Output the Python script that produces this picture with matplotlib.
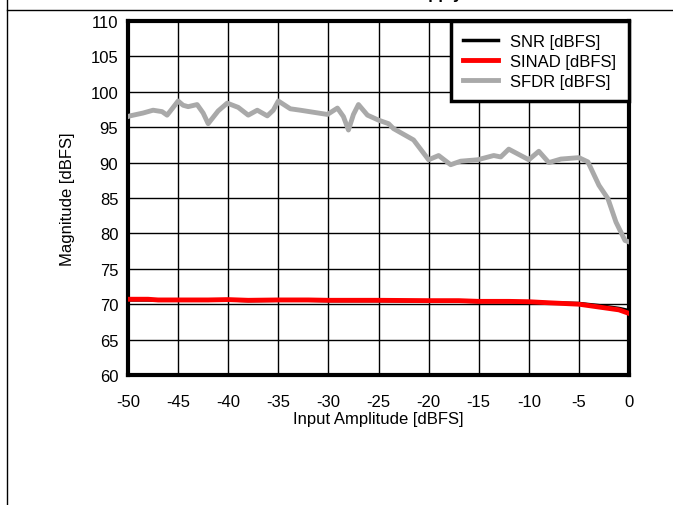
import numpy as np
import matplotlib
matplotlib.use('Agg')
import matplotlib.pyplot as plt
from matplotlib.lines import Line2D

plt.rcParams['font.family'] = ['Liberation Sans', 'DejaVu Sans']
plt.rcParams['axes.unicode_minus'] = False

# SFDR
amp_sfdr = [-50, -49.8, -48.5, -47.5, -46.6, -46.1, -45.6, -45, -44.5, -44, -43.1, -42.5, -42,
            -41, -40.1, -39, -38, -37.1, -36.1, -35.5,
            -35, -33.8, -32.8, -30.1, -29.1, -28.5, -28, -27.5, -27, -26.1, -25, -24, -23.5, -21.5,
            -20, -19, -17.8, -16.8, -15.1, -13.5, -12.8, -12, -10, -9, -8, -6.8,
            -5, -4.1, -3, -2.1, -1.3, -0.4, 0]
sfdr = [96.5, 96.6, 97.0, 97.4, 97.2, 96.7, 97.6, 98.7, 98.1, 97.9, 98.2, 97.0, 95.5,
        97.3, 98.4, 97.8, 96.7, 97.4, 96.6, 97.4,
        98.7, 97.6, 97.4, 96.8, 97.7, 96.5, 94.6, 96.8, 98.2, 96.7, 96.0, 95.5, 94.8, 93.2,
        90.4, 91.0, 89.7, 90.2, 90.4, 91.0, 90.8, 91.9, 90.4, 91.6, 90.0, 90.5,
        90.7, 90.1, 86.8, 84.9, 81.6, 79.0, 78.8]

amp = [-50, -48, -47, -45, -42, -40, -38, -35, -32, -30, -25, -20, -17, -15,
       -12, -10, -8, -5, -3, -2, -1, 0]
snr = [70.6, 70.6, 70.55, 70.55, 70.55, 70.6, 70.5, 70.55, 70.55, 70.5, 70.5, 70.45,
       70.45, 70.35, 70.35, 70.3, 70.2, 70.1, 69.8, 69.6, 69.4, 69.1]
sinad = [70.7, 70.7, 70.6, 70.6, 70.6, 70.65, 70.55, 70.6, 70.6, 70.55, 70.55, 70.5,
         70.5, 70.4, 70.4, 70.35, 70.2, 70.0, 69.6, 69.4, 69.2, 68.7]

xticks = np.arange(-50, 1, 5)
yticks = np.arange(60, 111, 5)

fig = plt.figure(figsize=(6.73, 5.06), dpi=100)
ax = fig.add_axes([128/673, 130/506, 501/673, 354/506])

ax.plot(amp, snr, color='black', lw=2.5, label='SNR [dBFS]', zorder=3)
ax.plot(amp, sinad, color='#ff0000', lw=3.5, label='SINAD [dBFS]', zorder=4)
ax.plot(amp_sfdr, sfdr, color='#a9a9a9', lw=3.5, label='SFDR [dBFS]', zorder=3,
        solid_joinstyle='round')

ax.set_xlim(-50, 0)
ax.set_ylim(60, 110)
ax.set_xticks(xticks)
ax.set_yticks(yticks)
ax.tick_params(axis='x', length=0, labelsize=12, pad=14)
ax.tick_params(axis='y', length=0, labelsize=12, pad=7)
ax.grid(True, color='black', lw=1)
ax.set_axisbelow(True)
for s in ax.spines.values():
    s.set_linewidth(3)

ax.set_xlabel('Input Amplitude [dBFS]', fontsize=12, labelpad=1)
ax.set_ylabel('Magnitude [dBFS]', fontsize=12, labelpad=11)

leg = ax.legend(loc='upper right', bbox_to_anchor=(1, 1), borderaxespad=0,
                fontsize=12, fancybox=False, framealpha=1, edgecolor='black',
                handlelength=2.1, handletextpad=0.75, labelspacing=0.3,
                borderpad=0.75)
leg.get_frame().set_linewidth(2.5)
leg.set_zorder(10)

# page frame bits
fig.add_artist(Line2D([7/673, 7/673], [0, 1], transform=fig.transFigure,
                      color='black', lw=1))
fig.add_artist(Line2D([7/673, 1], [1 - 10.5/506, 1 - 10.5/506],
                      transform=fig.transFigure, color='black', lw=1))
fig.text(463/673, 1 + 1/506, 'Supply', ha='right', va='baseline',
         fontsize=12, fontweight='bold')

fig.savefig('out.png', dpi=100)
